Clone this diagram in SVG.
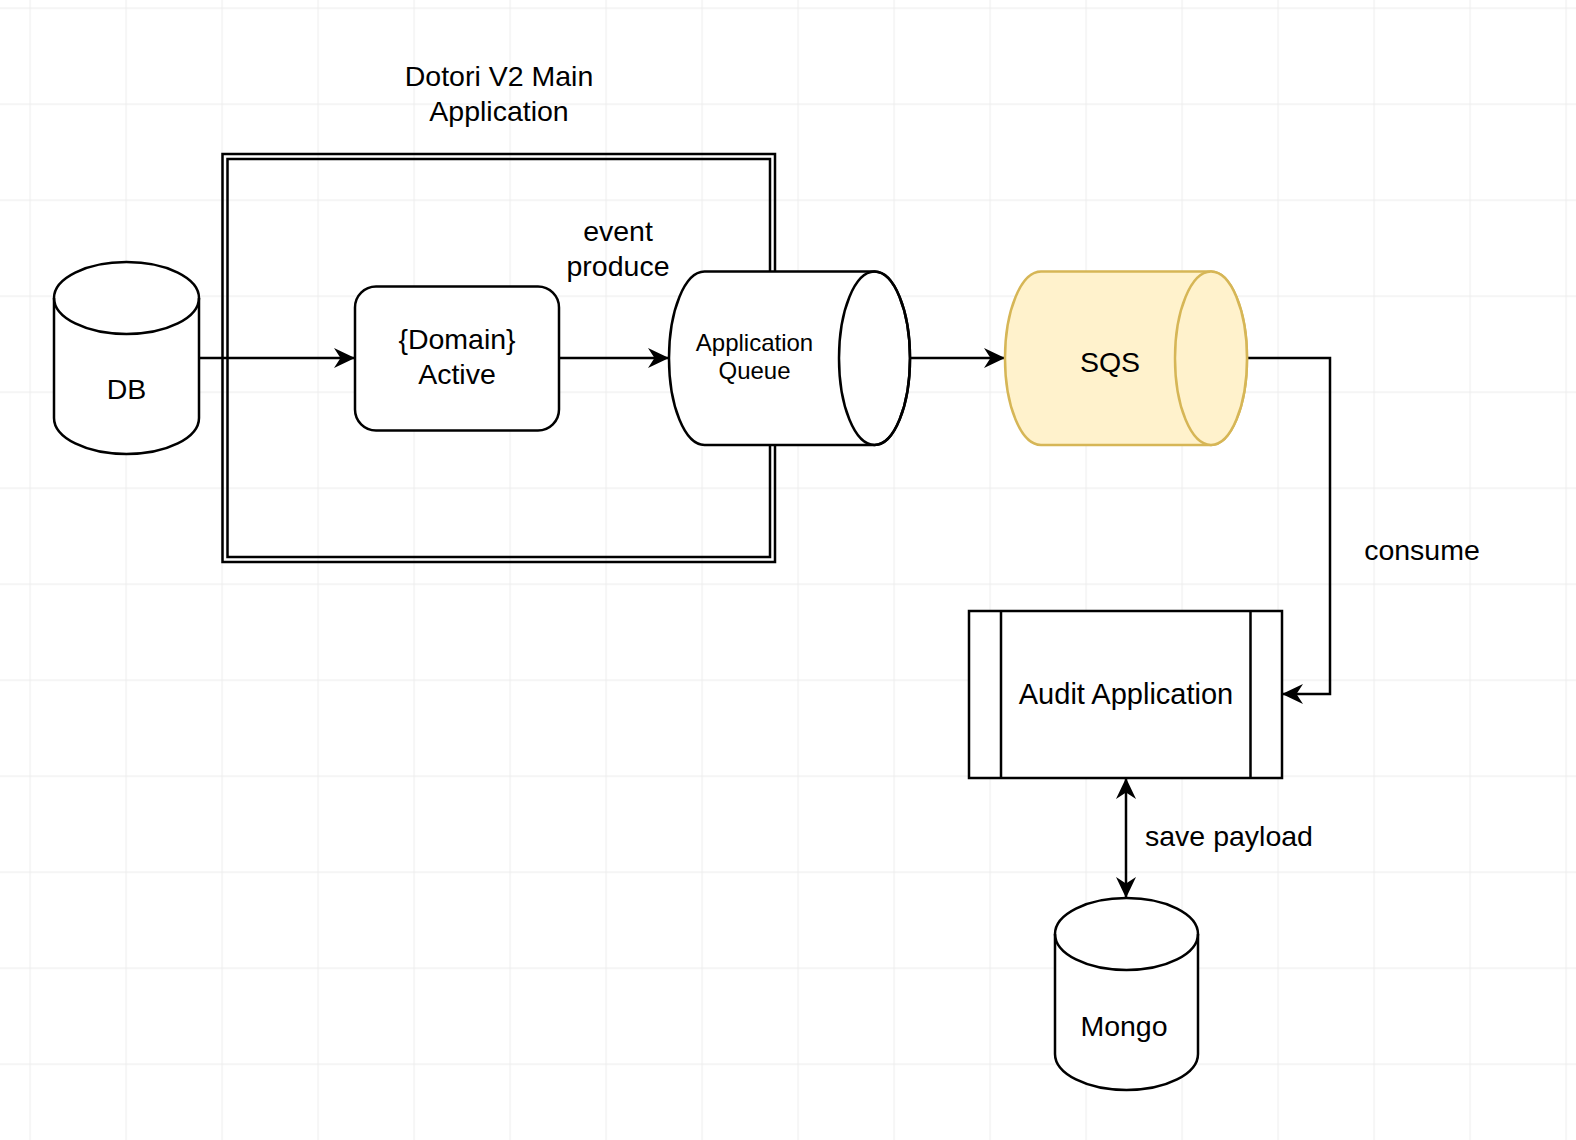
<svg xmlns="http://www.w3.org/2000/svg" width="1576" height="1140" viewBox="0 0 1576 1140">
<style>
.s{fill:#ffffff;stroke:#000000;stroke-width:2.5}
.y{fill:#fff2cc;stroke:#d6b656;stroke-width:2.5}
.c{fill:none;stroke:#000000;stroke-width:2.5}
text{font-family:"Liberation Sans",Arial,Helvetica,sans-serif;fill:#000000;text-anchor:middle}
.t{font-size:28.5px}
.q{font-size:24px}
</style>
<defs>
<pattern id="grid" patternUnits="userSpaceOnUse" x="29.5" y="7.5" width="96" height="96">
<path d="M0,0.5 H96 M0.5,0 V96" fill="none" stroke="#eeeeee" stroke-width="1.3"/>
</pattern>
<marker id="arr" viewBox="0 0 21 20" refX="21" refY="10" markerWidth="21" markerHeight="20" orient="auto-start-reverse" markerUnits="userSpaceOnUse">
<path d="M0,0 L21,10 L0,20 L6.5,10 Z" fill="#000000"/>
</marker>
</defs>
<rect width="1576" height="1140" fill="#ffffff"/>
<rect width="1576" height="1140" fill="url(#grid)"/>

<g id="main-app">
<rect x="222.5" y="154" width="552.5" height="408" class="c"/>
<rect x="227.5" y="159" width="542.5" height="398" class="c"/>
<text class="t" x="499" y="86">Dotori V2 Main</text>
<text class="t" x="499" y="121">Application</text>
</g>

<g id="connectors">
<path d="M199,358 H355" class="c" marker-end="url(#arr)"/>
<path d="M559,358 H669" class="c" marker-end="url(#arr)"/>
<path d="M910,358 H1005" class="c" marker-end="url(#arr)"/>
<path d="M1247,358 H1330 V694 H1282" class="c" marker-end="url(#arr)"/>
<path d="M1126,778 V898" class="c" marker-start="url(#arr)" marker-end="url(#arr)"/>
<text class="t" x="618" y="241">event</text>
<text class="t" x="618" y="276">produce</text>
<text class="t" x="1422" y="560">consume</text>
<text class="t" x="1229" y="846">save payload</text>
</g>

<g id="db">
<path d="M54,298 A72.5,36 0 0 1 199,298 V418 A72.5,36 0 0 1 54,418 Z" class="s"/>
<path d="M54,298 A72.5,36 0 0 0 199,298" class="c"/>
<text class="t" x="126.5" y="399">DB</text>
</g>

<g id="domain-active">
<rect x="355" y="286.5" width="204" height="144" rx="21" ry="21" class="s"/>
<text class="t" x="457" y="349">{Domain}</text>
<text class="t" x="457" y="384">Active</text>
</g>

<g id="application-queue">
<path d="M704.5,271.5 H874.5 A35.5,86.75 0 0 1 874.5,445 H704.5 A35.5,86.75 0 0 1 704.5,271.5 Z" class="s"/>
<ellipse cx="874.5" cy="358.25" rx="35.5" ry="86.75" class="c"/>
<text class="q" x="754.5" y="350.5">Application</text>
<text class="q" x="754.5" y="378.5">Queue</text>
</g>

<g id="sqs">
<path d="M1041,271.5 H1211 A36,86.75 0 0 1 1211,445 H1041 A36,86.75 0 0 1 1041,271.5 Z" class="y"/>
<ellipse cx="1211" cy="358.25" rx="36" ry="86.75" class="y"/>
<text class="t" x="1110" y="371.5">SQS</text>
</g>

<g id="audit-application">
<rect x="969" y="611" width="313" height="167" class="s"/>
<path d="M1001,611 V778 M1250.5,611 V778" class="c"/>
<text x="1126" y="704" style="font-size:29px">Audit Application</text>
</g>

<g id="mongo">
<path d="M1055,934 A71.5,36 0 0 1 1198,934 V1054 A71.5,36 0 0 1 1055,1054 Z" class="s"/>
<path d="M1055,934 A71.5,36 0 0 0 1198,934" class="c"/>
<text class="t" x="1124" y="1036">Mongo</text>
</g>
</svg>
